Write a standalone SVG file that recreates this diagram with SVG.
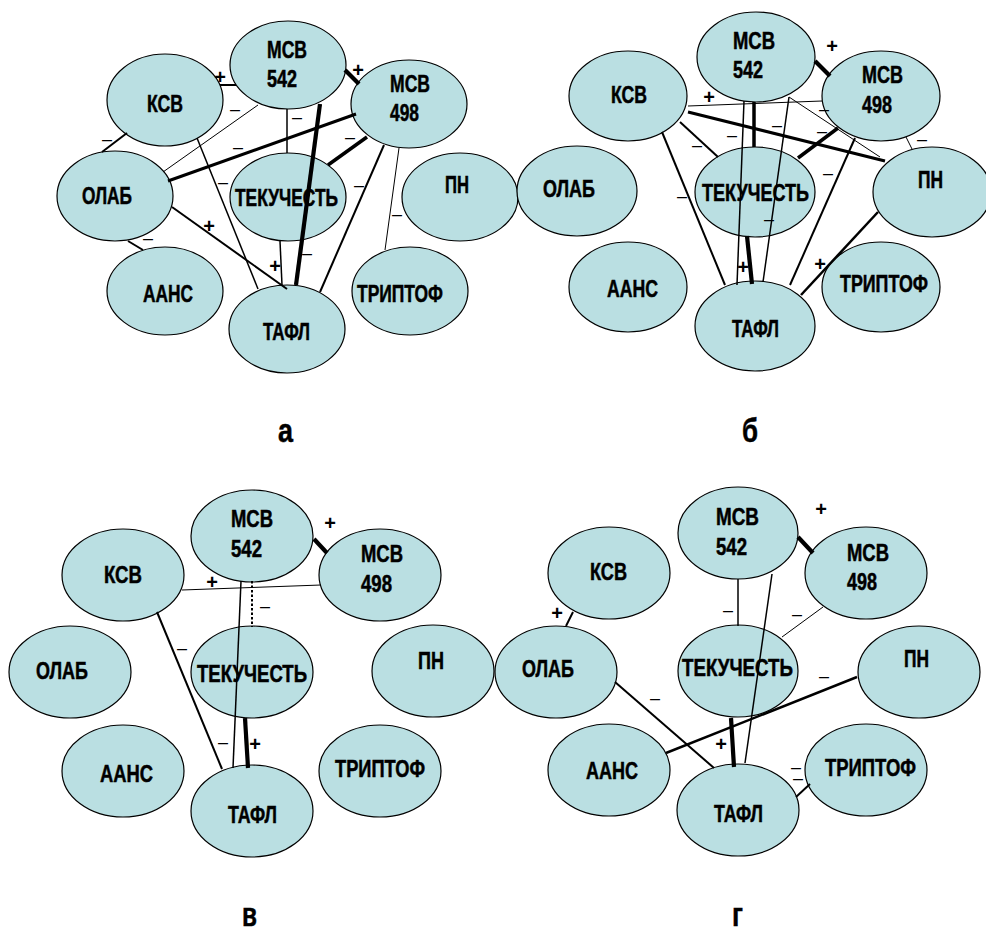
<svg xmlns="http://www.w3.org/2000/svg" width="986" height="929" viewBox="0 0 986 929">
<style>
.n ellipse{fill:#BADFE2;stroke:#000;stroke-width:1.2}
.n text{font-family:"Liberation Sans",Arial,sans-serif;font-weight:bold;font-size:23px;fill:#000;stroke:#000;stroke-width:0.5}
.c line{stroke:#000;stroke-linecap:butt}
.w1{stroke-width:1}.w15{stroke-width:1.5}.w2{stroke-width:2}.w25{stroke-width:2.5}.w3{stroke-width:3}.w35{stroke-width:3.5}.w4{stroke-width:4.2}
.dot{stroke-dasharray:2.5 2}
.m{font-family:"Liberation Sans",Arial,sans-serif;font-size:18px;text-anchor:middle;fill:#000}
.p{font-family:"Liberation Sans",Arial,sans-serif;font-size:20px;font-weight:bold;text-anchor:middle;fill:#000}
.pl{font-family:"Liberation Sans",Arial,sans-serif;font-size:34px;font-weight:bold;fill:#000;stroke:#000;stroke-width:0.5}
</style>
<rect width="986" height="929" fill="#fff"/>

<!-- Panel a -->
<g id="a-ksv" class="n"><ellipse cx="165" cy="100" rx="58" ry="46"/><text x="147" y="112" textLength="36" lengthAdjust="spacingAndGlyphs">КСВ</text></g>
<g id="a-msv542" class="n"><ellipse cx="288" cy="65" rx="58" ry="44"/><text x="267" y="58" textLength="40" lengthAdjust="spacingAndGlyphs">МСВ</text><text x="267" y="87" textLength="30" lengthAdjust="spacingAndGlyphs">542</text></g>
<g id="a-msv498" class="n"><ellipse cx="409" cy="104" rx="58" ry="44"/><text x="390" y="92" textLength="40" lengthAdjust="spacingAndGlyphs">МСВ</text><text x="390" y="121" textLength="29" lengthAdjust="spacingAndGlyphs">498</text></g>
<g id="a-olab" class="n"><ellipse cx="115" cy="196" rx="58" ry="45"/><text x="82" y="204" textLength="50" lengthAdjust="spacingAndGlyphs">ОЛАБ</text></g>
<g id="a-tek" class="n"><ellipse cx="288" cy="197" rx="58" ry="44"/><text x="235" y="206" textLength="103" lengthAdjust="spacingAndGlyphs">ТЕКУЧЕСТЬ</text></g>
<g id="a-pn" class="n"><ellipse cx="460" cy="197" rx="58" ry="44"/><text x="445" y="193" textLength="24" lengthAdjust="spacingAndGlyphs">ПН</text></g>
<g id="a-aans" class="n"><ellipse cx="165" cy="291" rx="58" ry="44"/><text x="143" y="302" textLength="50" lengthAdjust="spacingAndGlyphs">ААНС</text></g>
<g id="a-tafl" class="n"><ellipse cx="287" cy="329" rx="58" ry="44"/><text x="263" y="340" textLength="47" lengthAdjust="spacingAndGlyphs">ТАФЛ</text></g>
<g id="a-tript" class="n"><ellipse cx="410" cy="291" rx="58" ry="44"/><text x="357" y="302" textLength="86" lengthAdjust="spacingAndGlyphs">ТРИПТОФ</text></g>

<!-- Panel б -->
<g id="b-ksv" class="n"><ellipse cx="628" cy="96" rx="59" ry="45"/><text x="611" y="103" textLength="36" lengthAdjust="spacingAndGlyphs">КСВ</text></g>
<g id="b-msv542" class="n"><ellipse cx="756" cy="57" rx="59" ry="45"/><text x="733" y="49" textLength="42" lengthAdjust="spacingAndGlyphs">МСВ</text><text x="733" y="78" textLength="30" lengthAdjust="spacingAndGlyphs">542</text></g>
<g id="b-msv498" class="n"><ellipse cx="881" cy="96" rx="59" ry="45"/><text x="862" y="83" textLength="41" lengthAdjust="spacingAndGlyphs">МСВ</text><text x="862" y="113" textLength="30" lengthAdjust="spacingAndGlyphs">498</text></g>
<g id="b-olab" class="n"><ellipse cx="577" cy="191" rx="60" ry="45"/><text x="543" y="197" textLength="52" lengthAdjust="spacingAndGlyphs">ОЛАБ</text></g>
<g id="b-tek" class="n"><ellipse cx="755" cy="192" rx="60" ry="45"/><text x="702" y="201" textLength="107" lengthAdjust="spacingAndGlyphs">ТЕКУЧЕСТЬ</text></g>
<g id="b-pn" class="n"><ellipse cx="932" cy="192" rx="59" ry="45"/><text x="918" y="188" textLength="25" lengthAdjust="spacingAndGlyphs">ПН</text></g>
<g id="b-aans" class="n"><ellipse cx="628" cy="287" rx="59" ry="45"/><text x="607" y="297" textLength="51" lengthAdjust="spacingAndGlyphs">ААНС</text></g>
<g id="b-tafl" class="n"><ellipse cx="755" cy="326" rx="60" ry="45"/><text x="732" y="337" textLength="47" lengthAdjust="spacingAndGlyphs">ТАФЛ</text></g>
<g id="b-tript" class="n"><ellipse cx="881" cy="287" rx="59" ry="45"/><text x="840" y="292" textLength="88" lengthAdjust="spacingAndGlyphs">ТРИПТОФ</text></g>

<!-- Panel в -->
<g id="v-ksv" class="n"><ellipse cx="123" cy="575" rx="61" ry="46"/><text x="104" y="583" textLength="38" lengthAdjust="spacingAndGlyphs">КСВ</text></g>
<g id="v-msv542" class="n"><ellipse cx="252" cy="536" rx="61" ry="46"/><text x="231" y="527" textLength="42" lengthAdjust="spacingAndGlyphs">МСВ</text><text x="231" y="557" textLength="31" lengthAdjust="spacingAndGlyphs">542</text></g>
<g id="v-msv498" class="n"><ellipse cx="380" cy="575" rx="61" ry="46"/><text x="361" y="562" textLength="42" lengthAdjust="spacingAndGlyphs">МСВ</text><text x="361" y="592" textLength="31" lengthAdjust="spacingAndGlyphs">498</text></g>
<g id="v-olab" class="n"><ellipse cx="70" cy="672" rx="61" ry="46"/><text x="36" y="679" textLength="52" lengthAdjust="spacingAndGlyphs">ОЛАБ</text></g>
<g id="v-tek" class="n"><ellipse cx="252" cy="672" rx="61" ry="46"/><text x="197" y="682" textLength="110" lengthAdjust="spacingAndGlyphs">ТЕКУЧЕСТЬ</text></g>
<g id="v-pn" class="n"><ellipse cx="433" cy="671" rx="61" ry="46"/><text x="418" y="669" textLength="26" lengthAdjust="spacingAndGlyphs">ПН</text></g>
<g id="v-aans" class="n"><ellipse cx="123" cy="771" rx="61" ry="46"/><text x="100" y="782" textLength="53" lengthAdjust="spacingAndGlyphs">ААНС</text></g>
<g id="v-tafl" class="n"><ellipse cx="252" cy="811" rx="61" ry="46"/><text x="228" y="823" textLength="49" lengthAdjust="spacingAndGlyphs">ТАФЛ</text></g>
<g id="v-tript" class="n"><ellipse cx="380" cy="771" rx="61" ry="46"/><text x="335" y="777" textLength="90" lengthAdjust="spacingAndGlyphs">ТРИПТОФ</text></g>

<!-- Panel г -->
<g id="g-ksv" class="n"><ellipse cx="609" cy="573" rx="61" ry="46"/><text x="590" y="580" textLength="37" lengthAdjust="spacingAndGlyphs">КСВ</text></g>
<g id="g-msv542" class="n"><ellipse cx="738" cy="533" rx="60" ry="46"/><text x="716" y="525" textLength="43" lengthAdjust="spacingAndGlyphs">МСВ</text><text x="716" y="555" textLength="31" lengthAdjust="spacingAndGlyphs">542</text></g>
<g id="g-msv498" class="n"><ellipse cx="866" cy="573" rx="61" ry="46"/><text x="847" y="561" textLength="42" lengthAdjust="spacingAndGlyphs">МСВ</text><text x="847" y="590" textLength="30" lengthAdjust="spacingAndGlyphs">498</text></g>
<g id="g-olab" class="n"><ellipse cx="556" cy="672" rx="61" ry="46"/><text x="522" y="677" textLength="52" lengthAdjust="spacingAndGlyphs">ОЛАБ</text></g>
<g id="g-tek" class="n"><ellipse cx="738" cy="671" rx="60" ry="46"/><text x="682" y="676" textLength="111" lengthAdjust="spacingAndGlyphs">ТЕКУЧЕСТЬ</text></g>
<g id="g-pn" class="n"><ellipse cx="919" cy="672" rx="61" ry="46"/><text x="904" y="667" textLength="25" lengthAdjust="spacingAndGlyphs">ПН</text></g>
<g id="g-aans" class="n"><ellipse cx="609" cy="770" rx="61" ry="46"/><text x="586" y="779" textLength="52" lengthAdjust="spacingAndGlyphs">ААНС</text></g>
<g id="g-tafl" class="n"><ellipse cx="738" cy="810" rx="61" ry="46"/><text x="714" y="822" textLength="49" lengthAdjust="spacingAndGlyphs">ТАФЛ</text></g>
<g id="g-tript" class="n"><ellipse cx="866" cy="770" rx="61" ry="46"/><text x="825" y="776" textLength="91" lengthAdjust="spacingAndGlyphs">ТРИПТОФ</text></g>

<g id="connectors" class="c">
  <!-- a -->
  <line class="w2" x1="102" y1="152" x2="127" y2="133"/>
  <line class="w2" x1="220" y1="85" x2="236" y2="85"/>
  <line class="w1" x1="163" y1="172" x2="258" y2="105"/>
  <line class="w3" x1="168" y1="181" x2="356" y2="114"/>
  <line class="w15" x1="197" y1="138" x2="258" y2="289"/>
  <line class="w4" x1="345" y1="70" x2="359" y2="84"/>
  <line class="w15" x1="287" y1="109" x2="287" y2="153"/>
  <line class="w4" x1="320" y1="104" x2="296" y2="285"/>
  <line class="w35" x1="367" y1="137" x2="328" y2="165"/>
  <line class="w2" x1="384" y1="145" x2="320" y2="292"/>
  <line class="w1" x1="399" y1="148" x2="385" y2="250"/>
  <line class="w2" x1="172" y1="207" x2="287" y2="289"/>
  <line class="w2" x1="128" y1="241" x2="143" y2="250"/>
  <line class="w15" x1="280" y1="241" x2="282" y2="285"/>
  <!-- б -->
  <line class="w1" x1="688" y1="106" x2="822" y2="101"/>
  <line class="w3" x1="688" y1="112" x2="885" y2="161"/>
  <line class="w2" x1="680" y1="122" x2="718" y2="157"/>
  <line class="w2" x1="662" y1="132" x2="725" y2="285"/>
  <line class="w4" x1="815" y1="61" x2="830" y2="76"/>
  <line class="w15" x1="744" y1="101" x2="737" y2="285"/>
  <line class="w35" x1="754" y1="102" x2="754" y2="147"/>
  <line class="w15" x1="789" y1="97" x2="763" y2="282"/>
  <line class="w1" x1="789" y1="97" x2="880" y2="157"/>
  <line class="w35" x1="838" y1="128" x2="798" y2="158"/>
  <line class="w2" x1="855" y1="138" x2="790" y2="285"/>
  <line class="w1" x1="906" y1="137" x2="912" y2="149"/>
  <line class="w25" x1="878" y1="212" x2="801" y2="295"/>
  <line class="w4" x1="747" y1="236" x2="752" y2="284"/>
  <!-- в -->
  <line class="w1" x1="182" y1="590" x2="321" y2="585"/>
  <line class="w2" x1="157" y1="612" x2="222" y2="769"/>
  <line class="w4" x1="314" y1="539" x2="327" y2="553"/>
  <line class="w15" x1="241" y1="581" x2="233" y2="768"/>
  <line class="w2 dot" x1="252" y1="581" x2="252" y2="627"/>
  <line class="w4" x1="245" y1="718" x2="248" y2="768"/>
  <!-- г -->
  <line class="w2" x1="573" y1="612" x2="566" y2="626"/>
  <line class="w2" x1="615" y1="682" x2="714" y2="768"/>
  <line class="w4" x1="798" y1="537" x2="813" y2="553"/>
  <line class="w15" x1="738" y1="579" x2="738" y2="626"/>
  <line class="w15" x1="772" y1="574" x2="745" y2="763"/>
  <line class="w1" x1="823" y1="607" x2="782" y2="637"/>
  <line class="w25" x1="857" y1="677" x2="666" y2="753"/>
  <line class="w4" x1="731" y1="718" x2="734" y2="767"/>
  <line class="w2" x1="796" y1="797" x2="810" y2="784"/>
</g>

<g id="signs">
  <!-- a -->
  <text class="p" x="220" y="84">+</text>
  <text class="p" x="358" y="77">+</text>
  <text class="p" x="209" y="233">+</text>
  <text class="p" x="275" y="273">+</text>
  <text class="m" x="235" y="115">–</text>
  <text class="m" x="297" y="123">–</text>
  <text class="m" x="350" y="143">–</text>
  <text class="m" x="238" y="153">–</text>
  <text class="m" x="107" y="145">–</text>
  <text class="m" x="223" y="188">–</text>
  <text class="m" x="359" y="191">–</text>
  <text class="m" x="397" y="220">–</text>
  <text class="m" x="148" y="244">–</text>
  <text class="m" x="307" y="259">–</text>
  <!-- б -->
  <text class="p" x="709" y="104">+</text>
  <text class="p" x="832" y="53">+</text>
  <text class="p" x="743" y="274">+</text>
  <text class="p" x="820" y="271">+</text>
  <text class="m" x="697" y="151">–</text>
  <text class="m" x="732" y="141">–</text>
  <text class="m" x="777" y="131">–</text>
  <text class="m" x="824" y="115">–</text>
  <text class="m" x="822" y="137">–</text>
  <text class="m" x="828" y="179">–</text>
  <text class="m" x="922" y="145">–</text>
  <text class="m" x="682" y="202">–</text>
  <text class="m" x="769" y="225">–</text>
  <!-- в -->
  <text class="p" x="330" y="530">+</text>
  <text class="p" x="212" y="589">+</text>
  <text class="p" x="255" y="751">+</text>
  <text class="m" x="265" y="612">–</text>
  <text class="m" x="182" y="654">–</text>
  <text class="m" x="223" y="748">–</text>
  <!-- г -->
  <text class="p" x="821" y="516">+</text>
  <text class="p" x="557" y="620">+</text>
  <text class="p" x="721" y="751">+</text>
  <text class="m" x="728" y="616">–</text>
  <text class="m" x="797" y="620">–</text>
  <text class="m" x="824" y="682">–</text>
  <text class="m" x="655" y="704">–</text>
  <text class="m" x="796" y="773">–</text>
  <text class="m" x="798" y="784">–</text>
</g>

<g id="panel-labels">
  <text class="pl" x="278" y="442" textLength="15" lengthAdjust="spacingAndGlyphs">а</text>
  <text class="pl" x="742" y="442" textLength="16" lengthAdjust="spacingAndGlyphs">б</text>
  <text class="pl" x="242" y="926" textLength="15" lengthAdjust="spacingAndGlyphs">в</text>
  <text class="pl" x="732" y="926" textLength="11" lengthAdjust="spacingAndGlyphs">г</text>
</g>
</svg>
